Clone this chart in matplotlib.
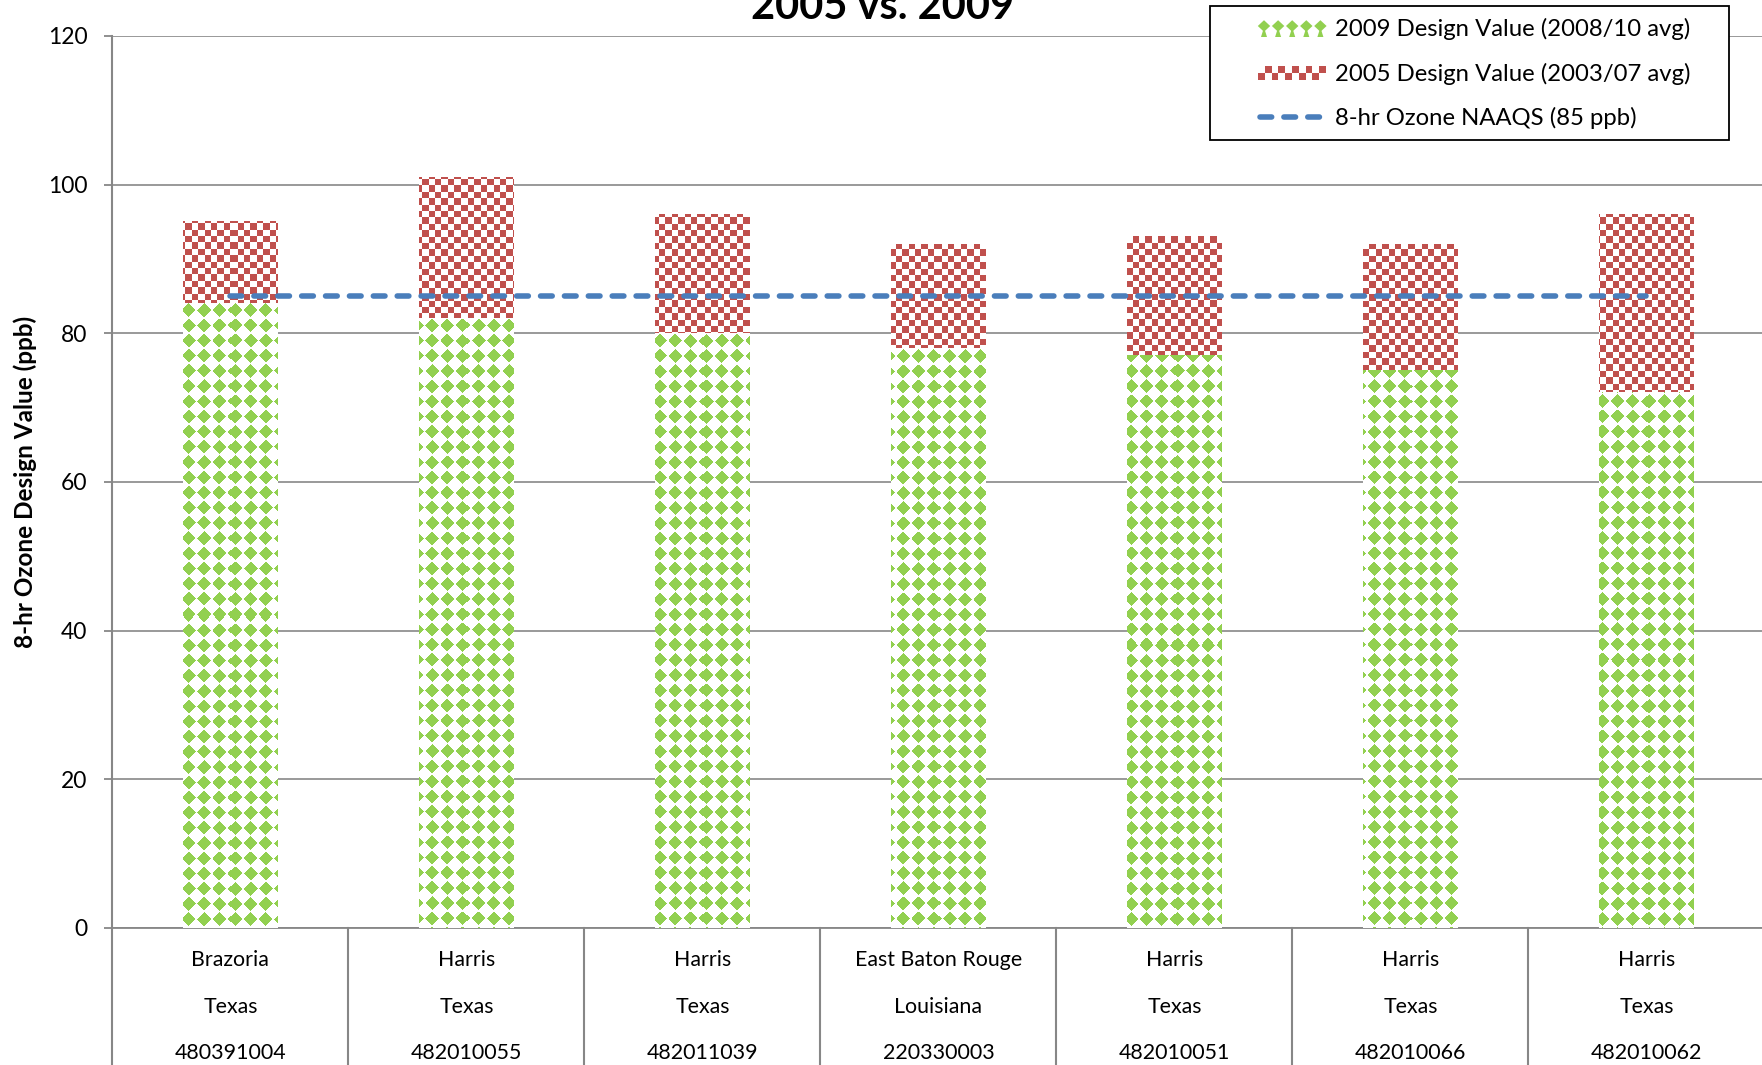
import numpy as np
import matplotlib
matplotlib.use("Agg")
import matplotlib.pyplot as plt
from matplotlib.patches import Rectangle, Polygon
from matplotlib.lines import Line2D
import matplotlib.transforms as mtransforms

# ---------------- data ----------------
counties = ["Brazoria", "Harris", "Harris", "East Baton Rouge", "Harris", "Harris", "Harris"]
states = ["Texas", "Texas", "Texas", "Louisiana", "Texas", "Texas", "Texas"]
sites = ["480391004", "482010055", "482011039", "220330003", "482010051", "482010066", "482010062"]
dv2009 = [84, 82, 80, 78, 77, 75, 72]
dv2005 = [95, 101, 96, 92, 93, 92, 96]
naaqs = [85, 85, 85, 85, 85, 85, 85]
yticks = [0, 20, 40, 60, 80, 100, 120]
title = "2005 vs. 2009"
ylabel = "8-hr Ozone Design Value (ppb)"
legend_labels = ["2009 Design Value (2008/10 avg)", "2005 Design Value (2003/07 avg)", "8-hr Ozone NAAQS (85 ppb)"]

GREEN = "#92D050"
RED = "#C0504D"
BLUE = "#4A7EBB"
GRID = "#878787"
FONT = "Lato"

plt.rcParams["font.family"] = [FONT, "DejaVu Sans"]

W, H = 1762, 1065
fig = plt.figure(figsize=(W / 100, H / 100), dpi=100)
fx = lambda px: px / W
fy = lambda py: 1 - py / H

left_px, right_px, top_px, bottom_px = 112.4, 1764.4, 36, 928
ax = fig.add_axes([fx(left_px), fy(bottom_px), (right_px - left_px) / W, (bottom_px - top_px) / H])
ax.set_xlim(-0.5, len(counties) - 0.5)
ax.set_ylim(0, 120)

# styling
for s in ["top", "right"]:
    ax.spines[s].set_visible(False)
ax.spines["left"].set_color(GRID)
ax.spines["left"].set_linewidth(1.5)
ax.spines["bottom"].set_color(GRID)
ax.spines["bottom"].set_linewidth(1.3)
ax.set_yticks(yticks)
ax.set_yticklabels([str(v) for v in yticks])
ax.tick_params(axis="y", direction="out", length=6, width=1.3, color=GRID, pad=12, labelsize=16.5, labelcolor="black")
ax.set_xticks([])
ax.yaxis.grid(True, color=GRID, linewidth=1.2)
ax.set_axisbelow(True)

x = np.arange(len(counties))
bw = 0.4
GTILE = 1.9   # pixels per cell of the 8x8 diamond tile
RSQ = 6.4     # checker square size in pixels


def green_pattern(PX, PY):
    # "solid diamond" 8x8 tile pattern
    u = (PX / GTILE) % 8
    v = (PY / GTILE) % 8
    return (np.abs(u - 3.5) + np.abs(v - 3.5)) <= 3.7


def red_pattern(PX, PY):
    # checker board pattern
    return ((np.floor(PX / RSQ) + np.floor(PY / RSQ)) % 2) == 0


def hexrgb(h):
    h = h.lstrip("#")
    return np.array([int(h[i:i + 2], 16) / 255 for i in (0, 2, 4)])


def pattern_bar(xc, height, func, color, z):
    x0d, x1d = xc - bw / 2, xc + bw / 2
    p0 = ax.transData.transform((x0d, 0))
    p1 = ax.transData.transform((x1d, height))
    wpx = int(round(p1[0] - p0[0]))
    hpx = int(round(p1[1] - p0[1]))
    cols = p0[0] + np.arange(wpx) + 0.5
    rows_top = (H - p1[1]) + np.arange(hpx) + 0.5
    PX, PY = np.meshgrid(cols, rows_top)
    mask = func(PX, PY)
    img = np.ones((hpx, wpx, 3))
    img[mask] = hexrgb(color)
    ax.imshow(img, extent=(x0d, x1d, 0, height), origin="upper", interpolation="nearest",
              aspect="auto", zorder=z)


# 2005 bars (behind) and 2009 bars (front)
bars05 = ax.bar(x, dv2005, width=bw, color="none", edgecolor="none", zorder=2)
bars09 = ax.bar(x, dv2009, width=bw, color="none", edgecolor="none", zorder=3)
for xi, v in zip(x, dv2005):
    pattern_bar(xi, v, red_pattern, RED, 2)
for xi, v in zip(x, dv2009):
    pattern_bar(xi, v, green_pattern, GREEN, 3)
ax.set_xlim(-0.5, len(counties) - 0.5)
ax.set_ylim(0, 120)

# NAAQS line
ax.plot(x, naaqs, color=BLUE, lw=4, dashes=(2.1, 2.2), dash_capstyle="round", zorder=5)

# category table below axis
trans = mtransforms.blended_transform_factory(ax.transData, fig.transFigure)
for b in np.arange(-0.5, len(counties), 1.0):
    ax.add_line(Line2D([b, b], [fy(bottom_px), fy(H + 10)], transform=trans, color=GRID,
                       lw=1.5, clip_on=False))
for xi, c, st, si in zip(x, counties, states, sites):
    for txt, py in zip((c, st, si), (960, 1007, 1053)):
        ax.text(xi, fy(py), txt, transform=trans, ha="center", va="center", fontsize=15.4, color="black")

# title & y label
fig.text(fx(883), fy(19), title, ha="center", va="baseline", fontsize=30, fontweight="bold")
fig.text(fx(25), fy(482), ylabel, ha="center", va="center", rotation=90, fontsize=17.5, fontweight="bold")

# legend (manual)
fig.patches.append(Rectangle((fx(1210), fy(140)), (1729 - 1210) / W, (140 - 6) / H, transform=fig.transFigure,
                             facecolor="white", edgecolor="black", lw=1.3, zorder=10))
ys = [29, 74, 118]
for lab, py in zip(legend_labels, ys):
    fig.text(fx(1335), fy(py), lab, ha="left", va="center", fontsize=17.2, zorder=11)
# green tulips (diamond tile cropped to swatch)
for k in range(5):
    cx = 1264 + k * 14.1
    cy = 26
    fig.patches.append(Polygon([(fx(cx - 6.2), fy(cy)), (fx(cx), fy(cy - 5.8)), (fx(cx + 6.2), fy(cy)),
                                (fx(cx), fy(cy + 5.8))], closed=True, transform=fig.transFigure,
                               facecolor=GREEN, edgecolor="none", zorder=11))
    fig.patches.append(Polygon([(fx(cx - 3), fy(cy + 11)), (fx(cx - 0.8), fy(cy + 4)), (fx(cx + 0.8), fy(cy + 4)),
                                (fx(cx + 3), fy(cy + 11))],
                               closed=True, transform=fig.transFigure, facecolor=GREEN, edgecolor="none", zorder=11))
# red checker
sq = 6.8
for r in range(2):
    for cidx in range(10):
        if (r + cidx) % 2 == 1:
            fig.patches.append(Rectangle((fx(1258 + cidx * sq), fy(66 + (r + 1) * sq)), sq / W, sq / H,
                                         transform=fig.transFigure, facecolor=RED, edgecolor="none", zorder=11))
# blue dashes
fig.lines.append(Line2D([fx(1260), fx(1322)], [fy(117), fy(117)], transform=fig.transFigure, color=BLUE, lw=4,
                        dashes=(2.1, 2.2), dash_capstyle="round", zorder=11))

fig.savefig("out.png", dpi=100)
